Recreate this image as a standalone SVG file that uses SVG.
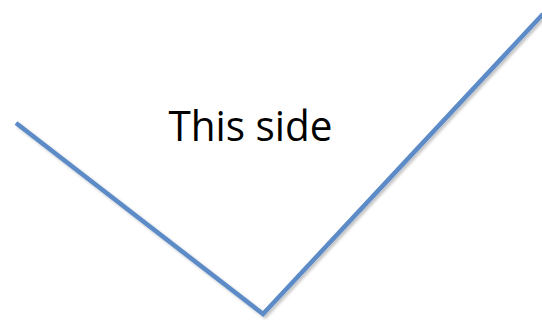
<svg xmlns="http://www.w3.org/2000/svg" width="542" height="322" viewBox="0 0 542 322">
<style>
.edge{fill:none;stroke:#5B8BC7;stroke-width:4.5;stroke-linecap:butt;stroke-linejoin:miter}
.label{font-family:"Open Sans","Liberation Sans",sans-serif;font-size:42px;fill:#000}
</style>
<defs>
<filter id="sh" x="-10%" y="-10%" width="120%" height="120%">
<feGaussianBlur in="SourceAlpha" stdDeviation="1.5"/>
<feOffset dx="2" dy="2" result="b"/>
<feComponentTransfer><feFuncA type="linear" slope="0.25"/></feComponentTransfer>
<feMerge><feMergeNode/><feMergeNode in="SourceGraphic"/></feMerge>
</filter>
</defs>
<rect width="542" height="322" fill="#fff"/>
<g id="connectors" filter="url(#sh)">
<polyline class="edge" points="16,123 263,314 543,14"/>
</g>
<g id="label-this-side">
<text class="label" x="168.5" y="141" textLength="164" lengthAdjust="spacingAndGlyphs">This side</text>
</g>
</svg>
